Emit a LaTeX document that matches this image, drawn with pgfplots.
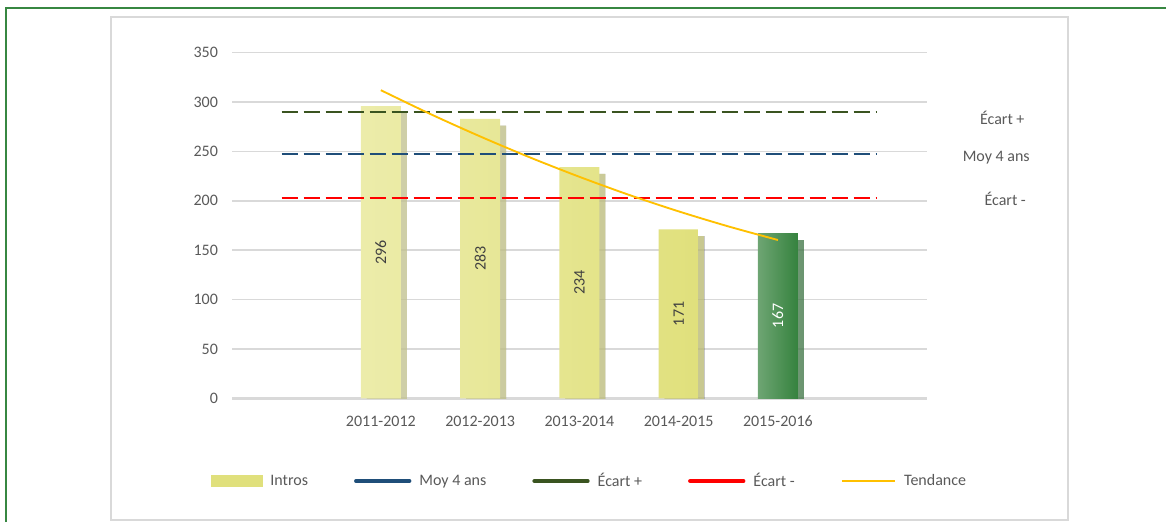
\documentclass[border=0pt]{standalone}
\usepackage{pgfplots}
\pgfplotsset{compat=1.18}
\usepackage{fontspec}
\setmainfont{Carlito}
\usetikzlibrary{shadows}

\definecolor{txtgray}{RGB}{89,89,89}
\definecolor{gridgray}{RGB}{217,217,217}
\definecolor{baryel}{RGB}{224,224,124}
\definecolor{baryellt}{RGB}{236,236,170}
\definecolor{bargrn}{RGB}{53,130,62}
\definecolor{bargrnlt}{RGB}{110,165,115}
\definecolor{moyblue}{RGB}{31,78,121}
\definecolor{ecplus}{RGB}{58,84,32}
\definecolor{ecmoins}{RGB}{255,0,0}
\definecolor{tend}{RGB}{255,192,0}
\definecolor{framegreen}{RGB}{55,135,65}

\newcommand\chartfont{\fontsize{12}{14}\selectfont}

\begin{document}
\begin{tikzpicture}[font=\chartfont]
\useasboundingbox (0,0) rectangle (874.5pt,391.5pt);
% cadres
\draw[framegreen, line width=1.5pt] (4.5pt,0pt) -- (4.5pt,385.7pt) -- (874.5pt,385.7pt);
\draw[gridgray, line width=1.5pt] (83.6pt,1.5pt) rectangle (801pt,379pt);

\begin{axis}[
  at={(174pt,92.78pt)}, anchor=south west,
  x=74.44pt, y=0.7406pt,
  xmin=-0.5, xmax=6.5, ymin=0, ymax=350,
  enlargelimits=false,
  clip mode=individual,
  axis x line*=bottom, axis y line*=left,
  x axis line style={gridgray, line width=2pt, -},
  y axis line style={draw=none},
  major tick length=0pt,
  ytick={0,50,...,350},
  xtick={1,2,3,4,5},
  xticklabels={2011-2012,2012-2013,2013-2014,2014-2015,2015-2016},
  ymajorgrids,
  major grid style={gridgray, line width=1.1pt},
  tick label style={text=txtgray, font=\chartfont},
  yticklabel style={xshift=-7pt},
  xticklabel style={anchor=center, yshift=-17pt},
  /pgf/number format/assume math mode=true,
  legend columns=5,
  legend style={at={(-0.0303,-0.2393)}, anchor=west, draw=none, fill=none,
    inner sep=0pt, text=txtgray, font=\chartfont,
    /tikz/every odd column/.append style={column sep=4pt},
    /tikz/every even column/.append style={column sep=32.5pt}},
]
% barres
\addplot[ybar, bar width=30pt, bar shift=0pt, draw=none,
  left color=baryellt, middle color=baryel, right color=baryel,
  drop shadow={shadow xshift=4.5pt, shadow yshift=-5pt, fill=black!60, opacity=0.55},
  nodes near coords, visualization depends on=y \as \rawy,
  every node near coord/.append style={shift={(axis direction cs:0,-\rawy/2)},
    rotate=90, anchor=center, text=black!75, font=\chartfont},
  forget plot]
  coordinates {(1,296) (2,283) (3,234) (4,171)};
\addplot[ybar, bar width=30pt, bar shift=0pt, draw=none,
  left color=bargrnlt, middle color=bargrn, right color=bargrn,
  drop shadow={shadow xshift=4.5pt, shadow yshift=-5pt, fill=black!60, opacity=0.55},
  nodes near coords, visualization depends on=y \as \rawy,
  every node near coord/.append style={shift={(axis direction cs:0,-\rawy/2)},
    rotate=90, anchor=center, text=white, font=\chartfont},
  forget plot]
  coordinates {(5,167)};
\addlegendimage{legend image code/.code={\fill[baryel] (0pt,-4pt) rectangle (38pt,4pt);}}
\addlegendentry{Intros}
% moyenne et ecarts
\addplot[moyblue, line width=1.5pt, dash pattern=on 12pt off 4.5pt,
  legend image code/.code={\draw[moyblue, solid, line width=3pt, line cap=round] (0pt,0pt) -- (40pt,0pt);}]
  coordinates {(0,247) (6,247)};
\addlegendentry{Moy 4 ans}
\addplot[ecplus, line width=1.5pt, dash pattern=on 12pt off 4.5pt,
  legend image code/.code={\draw[ecplus, solid, line width=3pt, line cap=round] (0pt,0pt) -- (40pt,0pt);}]
  coordinates {(0,290) (6,290)};
\addlegendentry{Écart +}
\addplot[ecmoins, line width=1.5pt, dash pattern=on 12pt off 4.5pt,
  legend image code/.code={\draw[ecmoins, solid, line width=3pt, line cap=round] (0pt,0pt) -- (40pt,0pt);}]
  coordinates {(0,203) (6,203)};
\addlegendentry{Écart -}
% tendance
\addplot[tend, line width=1.4pt, smooth,
  legend image code/.code={\draw[tend, solid, line width=1.5pt] (0pt,0pt) -- (40pt,0pt);}]
  coordinates {(1,312) (1.5,287.8) (2,265.2) (2.5,244) (3,224.3) (3.5,206) (4,189.3) (4.5,174.1) (5,160.3)};
\addlegendentry{Tendance}

\node[text=txtgray] at (axis cs:7.26,284) {Écart +};
\node[text=txtgray] at (axis cs:7.20,243.4) {Moy 4 ans};
\node[text=txtgray] at (axis cs:7.29,201.8) {Écart -};
\end{axis}
\end{tikzpicture}
\end{document}
